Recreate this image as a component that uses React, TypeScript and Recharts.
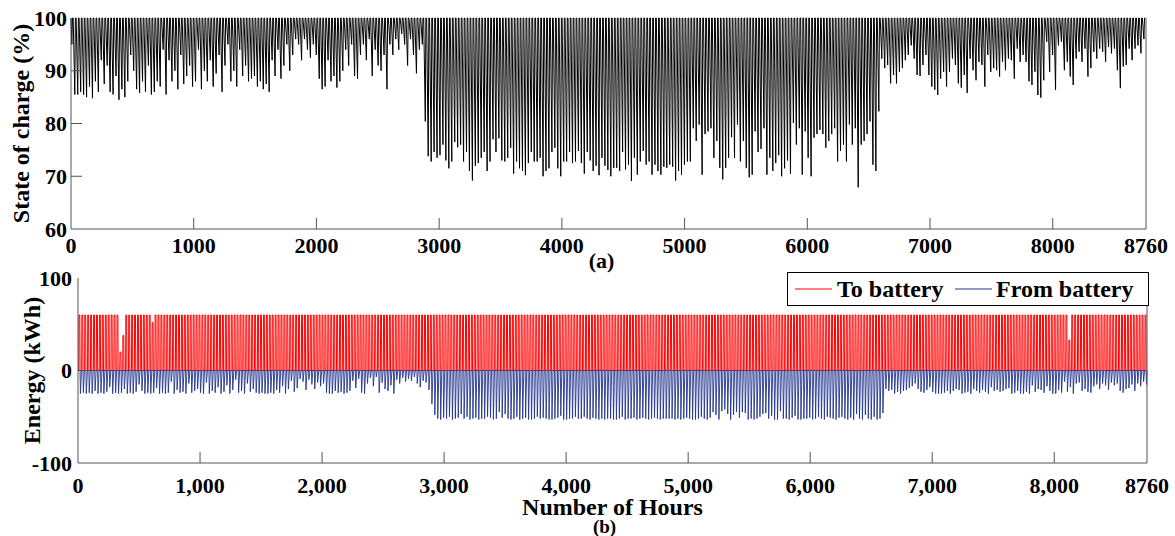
import { LineChart, Line, XAxis, YAxis, Label, Legend } from "recharts";

// ---- axes / ticks ----
const hourTicks = [0, 1000, 2000, 3000, 4000, 5000, 6000, 7000, 8000, 8760];
const socHourLabels = ["0", "1000", "2000", "3000", "4000", "5000", "6000", "7000", "8000", "8760"];
const energyHourLabels = ["0", "1,000", "2,000", "3,000", "4,000", "5,000", "6,000", "7,000", "8,000", "8760"];
const socTicks = [60, 70, 80, 90, 100];
const energyTicks = [-100, 0, 100];

// ---- data (one value per day) ----
// lowest state of charge reached each day (%)
const socDailyMin = [
  95, 85.5, 85.5, 86, 85.5, 85, 87, 84.8, 88, 86,
  92, 87.5, 91, 86, 85.5, 89, 84.5, 86.5, 85, 88,
  93, 90, 86.5, 85.8, 88, 86, 91, 85.5, 86, 88,
  87, 94, 85.5, 92, 88, 90, 86.5, 93, 87.5, 89,
  91, 87, 88, 94, 86.5, 90, 88, 92, 87, 89.5,
  93, 86, 91, 95, 88, 90, 87, 94, 89, 91,
  88,
  88.5, 89, 87, 88, 86.5, 87.5, 86,
  92, 89, 94, 88.5, 91, 95, 90, 93,
  96, 95, 92, 96, 94, 92.5, 95, 93,
  88.5, 86.5, 87, 92, 88, 89, 86.8, 88, 90,
  94, 91, 95, 89, 88.5, 93, 95, 92, 96, 89, 94, 91, 90, 93,
  86.5,
  95, 93, 96, 94, 97, 95, 91, 96, 93, 89.5, 94, 95,
  80.4, 73.8,
  72.8, 74.6, 73.5, 74, 76, 73, 71.5, 72.8, 76.5, 75.5,
  76, 72.8, 74.6, 71, 69.2, 72, 72.5, 73.5, 74.6, 71,
  72.8, 77, 74.6, 77.2, 73, 72.8, 73.5, 75.4, 70.5, 72.8,
  71.5, 71, 70.2, 72.5, 74.6, 72.8, 72.8, 73.5, 70, 71,
  71.5, 74.6, 75.4, 71.5, 70, 72.8, 72.8, 74.6, 72.5, 72.8,
  74.8, 72.5, 70.5, 74.6, 73, 71, 72, 70.2, 73.5, 72,
  71.2, 70,
  71.6, 71.6, 71, 74.6, 71.3, 72.2, 69.1, 73.5, 70.3, 72.8,
  74.8, 72.2, 72.8, 70.3, 72.2, 71, 70.3, 71.8, 71.6, 72.2,
  71.8, 69.2, 71, 70.3, 72.2, 72.8, 72.8, 79.1, 76.7, 79.8,
  70.3, 78, 78.5, 79.1, 73.5, 76.7, 71.6, 69.4, 71.6, 73.5,
  77.4, 73.5, 79.8, 72.8, 76.7, 71.6, 69.8, 70.3, 78.5, 74.6,
  75.2, 79.1, 70.3, 73.5, 71, 72.5, 74, 70, 71.5, 73,
  70.5,
  80.1, 76, 79.1, 70.3, 78.5, 73.5, 70, 77.3, 78, 78.8,
  78, 75.4, 76.7, 78, 79.1, 72.8, 74.8, 76, 72.8, 79.8,
  76, 79.1, 67.9, 76, 76.7, 78, 80.4, 72.2, 71, 82.3,
  92.3, 90.5, 91.1, 87.6, 89.2, 87.6, 89.8, 90.5, 92, 93,
  94.8, 92.3, 89.2, 89, 91.1, 93, 89.2, 87, 86.4, 85.4,
  88.5, 89.8, 87, 89.8, 92.3, 91.1, 87.6, 86.8, 89.2, 85.8,
  92.3,
  90.1, 88.2, 91.7, 91.1, 87, 93, 89.8, 90.5, 90.1, 88.9,
  91.7, 90.1, 92.3, 92, 88.5, 94.2, 91.7, 93, 91.7, 88,
  87.3, 89.8, 85.4, 84.9, 88.2, 95.5, 89.8, 93, 86.4, 94.8,
  95.5, 90.1, 91.7, 88.9, 87.3, 92.3, 93.6, 91.7, 94.2, 88.9,
  90.5, 93.6, 92.3, 94.2, 93.6, 91.7, 94.5, 93.3, 94.2, 90.1,
  86.7, 90.8, 91.1, 94.2, 92, 94.2, 94.8, 93.3, 96,
];

// largest hourly discharge each day (kWh, negative = out of battery)
const fromBatteryDailyMin = [
  -25, -24, -25, -24, -25, -22, -25, -24, -25, -23,
  -18, -25, -24, -25, -24, -20, -25, -24, -25, -23,
  -15, -22, -25, -24, -25, -24, -19, -25, -24, -25,
  -24, -12, -25, -21, -24, -23, -25, -14, -24, -22,
  -20, -24, -25, -13, -25, -22, -24, -18, -25, -23,
  -16, -25, -21, -10, -24, -22, -25, -14, -23, -20,
  -24, -25, -24, -25, -25, -24, -25, -21, -24, -17,
  -25, -20, -11, -23, -19, -9, -12, -21, -10, -15,
  -20, -13, -17, -14, -24, -25, -25, -22, -24, -23,
  -25, -24, -22, -11, -19, -9, -24, -25, -14, -8,
  -17, -7, -24, -13, -20, -22, -16, -25, -10, -14,
  -8, -12, -9, -11, -7, -14, -18, -11, -13, -21,
  -36, -48,
  -52, -53, -51, -52, -50, -53, -52, -51, -47, -52,
  -50, -53, -52, -51, -53, -52, -52, -50, -51, -53,
  -52, -45, -51, -47, -52, -53, -52, -50, -53, -52,
  -51, -53, -53, -52, -50, -52, -51, -52, -53, -53,
  -52, -51, -49, -53, -53, -52, -52, -50, -52, -52,
  -50, -52, -53, -51, -52, -53, -52, -53, -52, -52,
  -53, -53, -52, -50, -53, -52, -52, -51, -53, -52,
  -51, -52, -53, -52, -51, -52, -53, -52, -52, -52,
  -52, -53, -52, -53, -52, -51, -52, -53, -53, -52,
  -50, -52, -53, -51, -45, -48, -53, -44, -42, -47,
  -53, -48, -45, -51, -45, -46, -53, -52, -53, -52,
  -50, -47, -46, -52, -49, -53, -53, -44, -52, -52,
  -53, -51, -49, -53, -53, -52, -52, -51, -53, -52,
  -50, -52, -53, -50, -51, -52, -53, -51, -50, -52,
  -53, -51, -53, -47, -52, -53, -48, -52, -53, -50,
  -53, -52, -46,
  -20, -22, -21, -25, -23, -25, -22, -21, -19, -17,
  -14, -20, -23, -24, -21, -18, -23, -25, -25, -25,
  -24, -22, -25, -22, -20, -21, -25, -24, -23, -25,
  -20, -22, -24, -21, -23, -25, -18, -22, -21, -23,
  -22, -20, -19, -25, -24, -22, -25, -25, -23, -25,
  -16, -23, -20, -21, -24, -17, -22, -25, -25, -21,
  -24, -12, -23, -18, -25, -14, -13, -22, -20, -23,
  -24, -17, -15, -20, -14, -16, -21, -13, -16, -14,
  -22, -24, -20, -19, -15, -22, -14, -17, -12, -15,
];

// charging peaks at the 60 kWh limit every day except these [day, kWh]
const toBatteryFullRate = 60;
const toBatteryPartialDays: [number, number][] = [[14, 20], [15, 38], [25, 52], [338, 33]];

// ---- hourly shape of a day ----
const SOC_LOW_HOUR = 7;
const SOC_FULL_HOUR = 12;
const SOC_DRAIN_HOUR = 18;
const CHARGE_START = 6;
const CHARGE_PEAK = 8;
const CHARGE_PEAK_END = 15;
const CHARGE_END = 17;
const DISCHARGE_START = 17;
const DISCHARGE_PEAK = 20;
const DISCHARGE_END = 29;

type Pt = { h: number; v: number };

const socSeries: Pt[] = [{ h: 0, v: 100 }];
socDailyMin.forEach((low, d) => {
  const t = d * 24;
  socSeries.push({ h: t + SOC_LOW_HOUR, v: low }, { h: t + SOC_FULL_HOUR, v: 100 }, { h: t + SOC_DRAIN_HOUR, v: 100 });
});

const partial = new Map(toBatteryPartialDays);
const toBatterySeries: Pt[] = [{ h: 0, v: 0 }];
socDailyMin.forEach((_, d) => {
  const t = d * 24;
  const peak = partial.get(d) ?? toBatteryFullRate;
  toBatterySeries.push(
    { h: t + CHARGE_START, v: 0 },
    { h: t + CHARGE_PEAK, v: peak },
    { h: t + CHARGE_PEAK_END, v: peak },
    { h: t + CHARGE_END, v: 0 },
  );
});

const fromBatterySeries: Pt[] = [{ h: 0, v: 0 }];
fromBatteryDailyMin.forEach((low, d) => {
  const t = d * 24;
  fromBatterySeries.push(
    { h: t + DISCHARGE_START, v: 0 },
    { h: t + DISCHARGE_PEAK, v: low },
    { h: Math.min(t + DISCHARGE_END, 8760), v: 0 },
  );
});

// ---- styling ----
const AXIS = "#555555";
const RED = "#ff0000";
const BLUE = "#22358f";
const FONT = "Liberation Serif, serif";
const TICK_LEN = 11;
const txt = { fontFamily: FONT, fontWeight: 700, fontSize: 22, fill: "#000" } as const;
const title = { ...txt, fontSize: 24 } as const;
const small = { ...txt, fontSize: 19 } as const;

const bottomTick = (labels: string[], margin: number) => (props: any) => {
  const { x, y, payload, index } = props;
  const axisY = y - margin;
  const inner = payload.value > 0 && payload.value < 8760;
  return (
    <g>
      {inner && <line x1={x} x2={x} y1={axisY} y2={axisY - TICK_LEN} stroke={AXIS} />}
      <text x={x} y={y} dy="0.35em" textAnchor="middle" style={txt}>{labels[index]}</text>
    </g>
  );
};

const topTick = (props: any) => {
  const { x, y, payload } = props;
  if (payload.value <= 0 || payload.value >= 8760) return <g />;
  return <line x1={x} x2={x} y1={y} y2={y + TICK_LEN} stroke={AXIS} />;
};

const leftTick = (margin: number, lo: number, hi: number) => (props: any) => {
  const { x, y, payload } = props;
  const axisX = x + margin;
  const inner = payload.value > lo && payload.value < hi;
  return (
    <g>
      {inner && <line x1={axisX} x2={axisX + TICK_LEN} y1={y} y2={y} stroke={AXIS} />}
      <text x={x} y={y} dy="0.35em" textAnchor="end" style={txt}>{payload.value}</text>
    </g>
  );
};

const rightTick = (lo: number, hi: number) => (props: any) => {
  const { x, y, payload } = props;
  if (payload.value <= lo || payload.value >= hi) return <g />;
  return <line x1={x} x2={x - TICK_LEN} y1={y} y2={y} stroke={AXIS} />;
};

const rotated = (label: string, dx: number) => (props: any) => {
  const { x, y, height } = props.viewBox;
  const cx = x + dx;
  const cy = y + height / 2;
  return (
    <text x={cx} y={cy} transform={`rotate(-90 ${cx} ${cy})`} textAnchor="middle" dominantBaseline="central" style={title}>
      {label}
    </text>
  );
};

const panelA = (props: any) => {
  const { x, y, width } = props.viewBox;
  return (
    <text x={x + width / 2 - 7} y={y + 31} textAnchor="middle" dominantBaseline="central" style={txt}>(a)</text>
  );
};

const hoursTitle = (props: any) => {
  const { x, y, width } = props.viewBox;
  const cx = x + width / 2;
  return (
    <g>
      <text x={cx} y={y + 44} textAnchor="middle" dominantBaseline="central" style={title}>Number of Hours</text>
      <text x={cx - 8} y={y + 63} textAnchor="middle" dominantBaseline="central" style={small}>(b)</text>
    </g>
  );
};

const energyLegend = () => (
  <div style={{
    width: 360,
    height: 32,
    border: "1px solid #000",
    background: "#fff",
    position: "relative",
    fontFamily: FONT,
    fontWeight: 700,
    fontSize: 24,
    lineHeight: "32px",
    whiteSpace: "nowrap",
  }}>
    <svg width={360} height={32} style={{ position: "absolute", left: 0, top: 0 }}>
      <line x1={7} x2={44} y1={16} y2={16} stroke={RED} strokeWidth={1.2} />
      <line x1={167} x2={204} y1={16} y2={16} stroke={BLUE} strokeWidth={1.2} />
    </svg>
    <span style={{ position: "absolute", left: 49, top: 0 }}>To battery</span>
    <span style={{ position: "absolute", left: 208, top: 0 }}>From battery</span>
  </div>
);

export default function App() {
  return (
    <div style={{ position: "absolute", left: 0, top: 0, width: 1175, height: 536, background: "#fff" }}>
      <div style={{ position: "absolute", left: 0, top: 0 }}>
        <LineChart width={1175} height={282} margin={{ top: 18, right: 0, bottom: 0, left: 0 }}>
          <XAxis xAxisId="b" type="number" dataKey="h" domain={[0, 8760]} ticks={hourTicks} interval={0}
            height={53} tickSize={0} tickMargin={16} axisLine={{ stroke: AXIS }} tick={bottomTick(socHourLabels, 16)}>
            <Label content={panelA} />
          </XAxis>
          <XAxis xAxisId="t" orientation="top" type="number" dataKey="h" domain={[0, 8760]} ticks={hourTicks}
            interval={0} height={0} tickSize={0} tickMargin={0} axisLine={{ stroke: AXIS }} tick={topTick} />
          <YAxis yAxisId="l" type="number" domain={[60, 100]} ticks={socTicks} interval={0} width={71}
            tickSize={0} tickMargin={4} axisLine={{ stroke: AXIS }} tick={leftTick(4, 60, 100)}>
            <Label content={rotated("State of charge (%)", 21)} />
          </YAxis>
          <YAxis yAxisId="r" orientation="right" type="number" domain={[60, 100]} ticks={socTicks} interval={0}
            width={29} tickSize={0} tickMargin={0} axisLine={{ stroke: AXIS }} tick={rightTick(60, 100)} />
          <Line xAxisId="b" yAxisId="l" data={socSeries} dataKey="v" type="linear" stroke="#000"
            strokeWidth={1} dot={false} activeDot={false} isAnimationActive={false} />
        </LineChart>
      </div>
      <div style={{ position: "absolute", left: 0, top: 240 }}>
        <LineChart width={1175} height={296} margin={{ top: 38, right: 0, bottom: 0, left: 0 }}>
          <XAxis xAxisId="b" type="number" dataKey="h" domain={[0, 8760]} ticks={hourTicks} interval={0}
            height={73} tickSize={0} tickMargin={22} axisLine={{ stroke: AXIS }} tick={bottomTick(energyHourLabels, 22)}>
            <Label content={hoursTitle} />
          </XAxis>
          <XAxis xAxisId="t" orientation="top" type="number" dataKey="h" domain={[0, 8760]} ticks={hourTicks}
            interval={0} height={0} tickSize={0} tickMargin={0} axisLine={{ stroke: AXIS }} tick={topTick} />
          <YAxis yAxisId="l" type="number" domain={[-100, 100]} ticks={energyTicks} interval={0} width={78}
            tickSize={0} tickMargin={6} axisLine={{ stroke: AXIS }} tick={leftTick(6, -100, 100)}>
            <Label content={rotated("Energy (kWh)", 32)} />
          </YAxis>
          <YAxis yAxisId="r" orientation="right" type="number" domain={[-100, 100]} ticks={energyTicks} interval={0}
            width={28} tickSize={0} tickMargin={0} axisLine={{ stroke: AXIS }} tick={rightTick(-100, 100)} />
          <Line xAxisId="b" yAxisId="l" data={toBatterySeries} dataKey="v" name="To battery" type="linear"
            stroke={RED} strokeWidth={1} dot={false} activeDot={false} isAnimationActive={false} />
          <Line xAxisId="b" yAxisId="l" data={fromBatterySeries} dataKey="v" name="From battery" type="linear"
            stroke={BLUE} strokeWidth={0.9} dot={false} activeDot={false} isAnimationActive={false} />
          <Legend content={energyLegend} verticalAlign="middle" align="center" layout="horizontal"
            wrapperStyle={{ left: 787, top: 32, width: 362, height: 34 }} />
        </LineChart>
      </div>
    </div>
  );
}
